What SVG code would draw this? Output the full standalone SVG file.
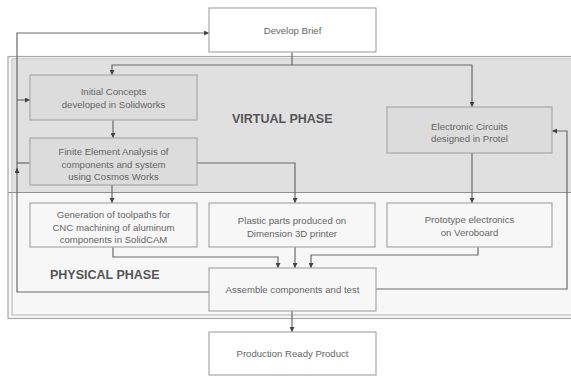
<svg xmlns="http://www.w3.org/2000/svg" width="571" height="377" viewBox="0 0 571 377">
<style>
.box{stroke:#a8a8a8;stroke-width:1.2}
.v{fill:#dcdcdc}
.p{fill:#f7f7f7}
.w{fill:#ffffff}
.t{font-family:"Liberation Sans",Arial,sans-serif;font-size:9.6px;fill:#666;text-anchor:middle}
.h{font-family:"Liberation Sans",Arial,sans-serif;font-size:12.5px;font-weight:bold;fill:#555}
.c{fill:none;stroke:#6a6a6a;stroke-width:1.2}
</style>
<defs>
<marker id="a" viewBox="0 0 6 6" refX="6" refY="3" markerWidth="5" markerHeight="5" orient="auto" markerUnits="userSpaceOnUse">
<path d="M0,0 L6,3 L0,6 z" fill="#444"/>
</marker>
</defs>
<rect width="571" height="377" fill="#ffffff"/>
<g id="frame">
<rect x="8" y="56.5" width="580" height="262" fill="#f7f7f7" stroke="#a8a8a8" stroke-width="1.2"/>
<rect x="12" y="59" width="580" height="256" fill="none" stroke="#b4b4b4" stroke-width="1"/>
<rect x="12.6" y="59.6" width="560" height="132.4" fill="#e0e0e0"/>
<line x1="8" y1="192.5" x2="571" y2="192.5" stroke="#909090" stroke-width="1.2"/>
<text class="h" x="232" y="123">VIRTUAL PHASE</text>
<text class="h" x="50" y="279">PHYSICAL PHASE</text>
</g>
<g id="connectors">
<path class="c" d="M292,52 V65 H112 V75" marker-end="url(#a)"/>
<path class="c" d="M292,65 H472 V107" marker-end="url(#a)"/>
<path class="c" d="M113,120 V138" marker-end="url(#a)"/>
<path class="c" d="M197,163 H295 V203" marker-end="url(#a)"/>
<path class="c" d="M112,185 V203" marker-end="url(#a)"/>
<path class="c" d="M472,153 V203" marker-end="url(#a)"/>
<path class="c" d="M113,247 V257 H278 V268" marker-end="url(#a)"/>
<path class="c" d="M295,247 V268" marker-end="url(#a)"/>
<path class="c" d="M478,247 V255 H311 V268" marker-end="url(#a)"/>
<path class="c" d="M292,311 V332" marker-end="url(#a)"/>
<path class="c" d="M209,292 H17 V33 H209" marker-end="url(#a)"/>
<path class="c" d="M17,100 H30" marker-end="url(#a)"/>
<path class="c" d="M17,163 H30"/>
<path class="c" d="M17,174 V168" marker-end="url(#a)"/>
<path class="c" d="M376,289 H567 V131 H552" marker-end="url(#a)"/>
</g>
<g id="develop-brief">
<rect class="box w" x="209" y="8" width="167" height="44"/>
<text class="t" x="292.5" y="33.5">Develop Brief</text>
</g>
<g id="initial-concepts">
<rect class="box v" x="30" y="75" width="167" height="45"/>
<text class="t" x="113.5" y="95">Initial Concepts</text>
<text class="t" x="113.5" y="108">developed in Solidworks</text>
</g>
<g id="fea">
<rect class="box v" x="30" y="138" width="167" height="47"/>
<text class="t" x="113.5" y="155">Finite Element Analysis of</text>
<text class="t" x="113.5" y="167.5">components and system</text>
<text class="t" x="113.5" y="180">using Cosmos Works</text>
</g>
<g id="electronic-circuits">
<rect class="box v" x="387" y="107" width="165" height="46"/>
<text class="t" x="469.5" y="130">Electronic Circuits</text>
<text class="t" x="469.5" y="142">designed in Protel</text>
</g>
<g id="toolpaths">
<rect class="box p" x="30" y="203" width="167" height="44"/>
<text class="t" x="113.5" y="218">Generation of toolpaths for</text>
<text class="t" x="113.5" y="230.5">CNC machining of aluminum</text>
<text class="t" x="113.5" y="243">components in SolidCAM</text>
</g>
<g id="plastic-parts">
<rect class="box p" x="209" y="203" width="166" height="44"/>
<text class="t" x="292" y="224">Plastic parts produced on</text>
<text class="t" x="292" y="236.5">Dimension 3D printer</text>
</g>
<g id="prototype">
<rect class="box p" x="387" y="203" width="165" height="44"/>
<text class="t" x="469.5" y="223">Prototype electronics</text>
<text class="t" x="469.5" y="235.5">on Veroboard</text>
</g>
<g id="assemble">
<rect class="box p" x="209" y="268" width="167" height="43"/>
<text class="t" x="292.5" y="293">Assemble components and test</text>
</g>
<g id="production">
<rect class="box w" x="209" y="332" width="167" height="43"/>
<text class="t" x="292.5" y="356.5">Production Ready Product</text>
</g>
</svg>
